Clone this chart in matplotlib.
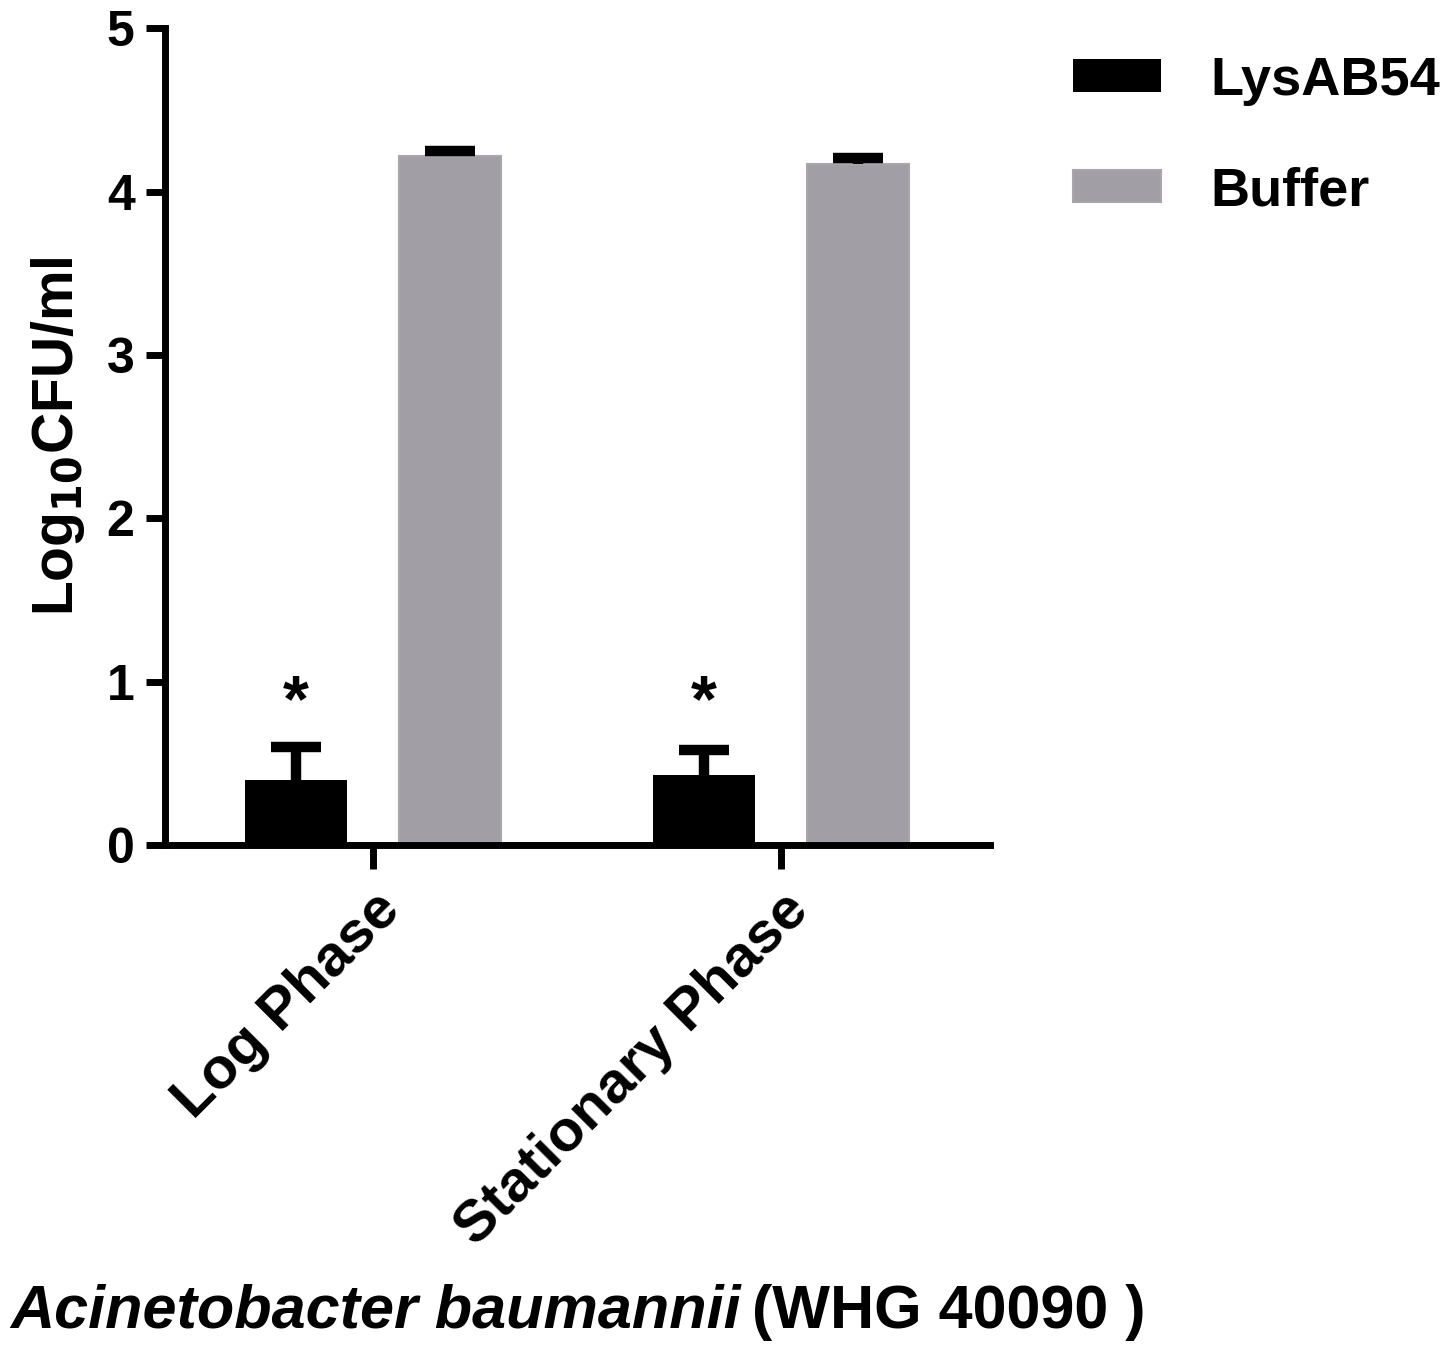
import matplotlib.pyplot as plt
import numpy as np

plt.rcParams['font.family'] = ['Liberation Sans', 'DejaVu Sans']
plt.rcParams['font.weight'] = 'bold'
plt.rcParams['mathtext.default'] = 'bf'

categories = ['Log Phase', 'Stationary Phase']
series_names = ['LysAB54', 'Buffer']
lys_mean = [0.40, 0.43]
lys_err = [0.20, 0.15]
buf_mean = [4.22, 4.17]
buf_err = [0.03, 0.035]
sig_marks = ['*', '*']

fig = plt.figure(figsize=(14.53, 13.53), dpi=100)
ax = fig.add_axes([0.1136, 0.3755, 0.5677, 0.6035])

x = np.arange(len(categories))
w = 0.25
off = 0.189

ax.bar(x - off, lys_mean, w, color='black', label=series_names[0])
ax.bar(x + off, buf_mean, w, color='#a19fa5', edgecolor='#a8a6ab', linewidth=1.5,
       label=series_names[1])

# upper error bars only, cap on top
for xs, m, e in [(x - off, lys_mean, lys_err), (x + off, buf_mean, buf_err)]:
    top = np.array(m) + np.array(e)
    ax.vlines(xs, m, top, colors='black', linewidth=7.5)
    ax.plot(xs, top, ls='none', marker='_', ms=36, mew=7.5, color='black')

# significance marks
for xi, s in zip(x - off, sig_marks):
    ax.text(xi, 0.86, s, ha='center', va='center', fontsize=48, fontweight='bold')

ax.set_xlim(-0.509, 1.513)
ax.set_ylim(0, 5)
ax.set_yticks([0, 1, 2, 3, 4, 5])
ax.set_xticks(x)
ax.set_xticklabels(categories, rotation=45, ha='right', rotation_mode='anchor',
                   fontsize=42, fontweight='bold')
ax.tick_params(axis='y', labelsize=36, width=5, length=14, pad=8)
ax.tick_params(axis='x', width=5, length=17, pad=10)
for lab in ax.get_yticklabels():
    lab.set_fontweight('bold')

for side in ['top', 'right']:
    ax.spines[side].set_visible(False)
for side in ['left', 'bottom']:
    ax.spines[side].set_linewidth(5)

ax.set_ylabel(r'Log$_{10}$CFU/ml', fontsize=41, fontweight='bold', labelpad=14)

t1 = fig.text(0.007, 0.03, 'Acinetobacter baumannii', fontsize=44, fontweight='bold',
              style='italic', ha='left', va='center')
fig.canvas.draw()
bb = t1.get_window_extent().transformed(fig.transFigure.inverted())
fig.text(bb.x1 + 0.008, 0.03, '(WHG 40090 )', fontsize=44, fontweight='bold',
         ha='left', va='center')

leg = ax.legend(loc='upper left', bbox_to_anchor=(0.705, 0.995),
                bbox_transform=fig.transFigure, frameon=False, fontsize=39,
                handlelength=1.62, handleheight=0.55, handletextpad=0.92,
                labelspacing=1.12)

plt.savefig('out.png', dpi=100)
